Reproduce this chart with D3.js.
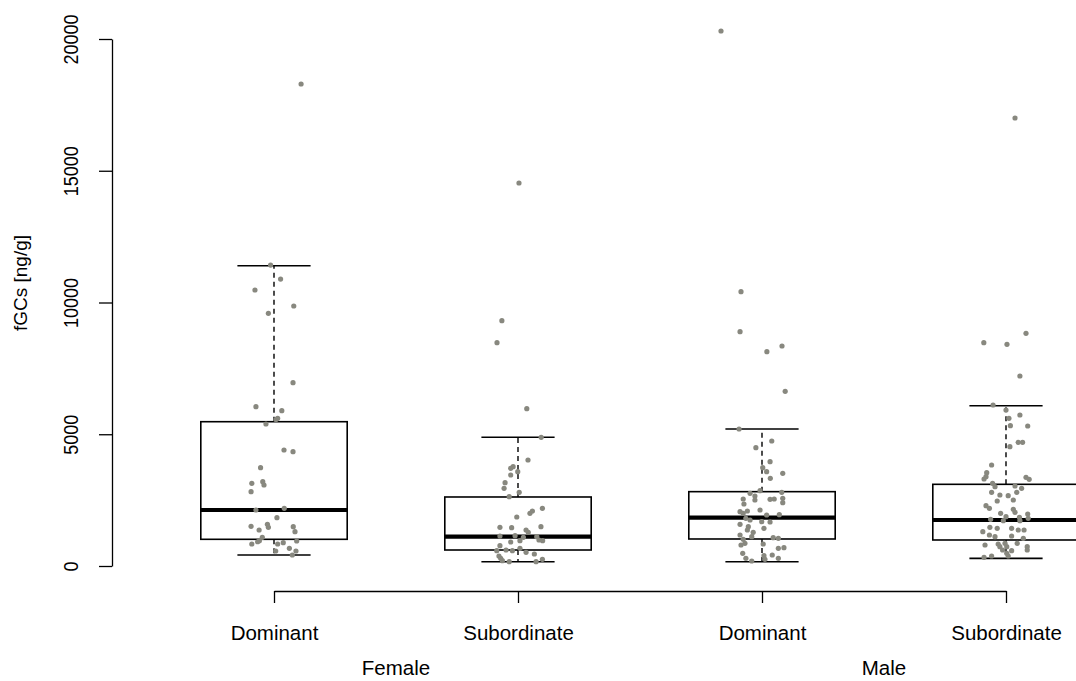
<!DOCTYPE html>
<html>
<head>
<meta charset="utf-8">
<script src="https://cdn.jsdelivr.net/npm/d3@7"></script>
<style>
  body { margin: 0; background: #fff; }
  text { font-family: "Liberation Sans", Arial, sans-serif; fill: #000; }
</style>
</head>
<body>
<svg id="chart" width="1076" height="681"></svg>
<script>
// Groups along the x axis
const groups = ["Female Dominant", "Female Subordinate", "Male Dominant", "Male Subordinate"];
const rankLabels = ["Dominant", "Subordinate", "Dominant", "Subordinate"];
const sexLabels = ["Female", "Male"];
const yTicks = [0, 5000, 10000, 15000, 20000];

// Box statistics per group (ng/g)
const lowerWhisker = [417, 164, 164, 291];
const lowerHinge   = [1013, 607, 1025, 987];
const medians      = [2125, 1113, 1834, 1746];
const upperHinge   = [5476, 2619, 2821, 3100];
const upperWhisker = [11396, 4884, 5199, 6084];

// Individual samples: [fGC value, horizontal jitter in group units]
const femaleDominant = [
  [18292, 0.111], [11420, -0.014], [10890, 0.027], [10474, -0.078], [9867, 0.081],
  [9590, -0.023], [6957, 0.078], [6046, -0.074], [5894, 0.032], [5604, 0.015],
  [5560, 0.008], [5389, -0.033], [4402, 0.041], [4338, 0.078], [3731, -0.055],
  [3138, -0.091], [3200, -0.046], [3074, -0.041], [2820, -0.094], [2125, -0.074],
  [2189, 0.042], [1834, 0.012], [1505, -0.094], [1366, -0.061], [1581, -0.027],
  [1467, -0.023], [1493, 0.079], [1303, 0.086], [1088, -0.048], [961, -0.060],
  [920, -0.067], [835, -0.091], [835, 0.015], [885, 0.038], [949, 0.093],
  [569, 0.007], [670, 0.063], [569, 0.090], [417, 0.075]
];
const femaleSubordinate = [
  [14535, 0.004], [9310, -0.066], [8475, -0.086], [5970, 0.036], [4884, 0.095],
  [4023, 0.041], [3707, -0.030], [3770, -0.020], [3580, -0.001], [3453, -0.030],
  [3162, -0.053], [2947, -0.057], [2796, 0.005], [2631, -0.036], [2189, 0.100],
  [2000, 0.049], [2087, 0.059], [1860, -0.005], [1468, -0.074], [1455, -0.026],
  [1493, 0.094], [1366, 0.033], [1278, 0.042], [1138, -0.074], [1151, -0.012],
  [1088, 0.022], [1113, 0.077], [987, 0.086], [961, 0.101], [911, -0.030],
  [961, 0.008], [772, -0.074], [582, -0.087], [607, -0.049], [582, -0.023],
  [670, 0.008], [519, 0.033], [455, 0.067], [291, -0.071], [202, -0.064],
  [164, -0.036], [164, 0.074], [253, 0.100], [380, -0.078]
];
const maleDominant = [
  [20303, -0.168], [10410, -0.086], [8893, -0.090], [8349, 0.082], [8133, 0.020],
  [6630, 0.095], [5199, -0.094], [4744, 0.040], [4490, -0.025], [3958, 0.033],
  [3731, 0.003], [3580, 0.019], [3518, 0.085], [3328, 0.034], [2858, -0.008],
  [2759, -0.049], [2796, 0.081], [2657, -0.029], [2543, -0.077], [2531, 0.033],
  [2543, 0.050], [2569, 0.085], [2505, -0.029], [2353, -0.074], [2402, 0.085],
  [2125, -0.008], [2061, -0.090], [2087, -0.060], [2000, -0.077], [1935, 0.019],
  [1947, 0.071], [1810, -0.066], [1746, -0.049], [1681, -0.001], [1670, 0.033],
  [1581, -0.090], [1493, -0.056], [1430, 0.008], [1366, -0.060], [1278, -0.036],
  [1176, -0.090], [1013, -0.077], [1113, -0.042], [1075, 0.046], [1050, 0.067],
  [797, -0.086], [860, -0.070], [835, 0.005], [670, 0.067], [696, 0.090],
  [481, -0.079], [392, 0.008], [417, 0.042], [291, 0.067], [291, -0.066],
  [190, -0.042], [253, 0.012]
];
const maleSubordinate = [
  [17002, 0.037], [8830, 0.082], [8475, -0.091], [8413, 0.004], [7211, 0.057],
  [6110, -0.053], [5920, 0.000], [5604, 0.012], [5730, 0.057], [5325, 0.018],
  [5313, 0.089], [4694, 0.050], [4694, 0.068], [4528, 0.016], [3833, -0.059],
  [3541, -0.079], [3302, -0.090], [3389, -0.082], [3366, 0.082], [3290, 0.095],
  [3138, -0.055], [3009, -0.045], [3036, 0.037], [2949, 0.064], [2797, -0.059],
  [2694, -0.025], [2668, 0.009], [2797, 0.044], [2467, -0.036], [2505, 0.030],
  [2288, -0.082], [2189, -0.068], [2151, 0.030], [2037, 0.037], [2000, -0.022],
  [1872, 0.000], [1772, -0.063], [1848, 0.055], [1721, 0.057], [1973, 0.089],
  [1810, 0.091], [1721, -0.011], [1303, -0.095], [1468, -0.066], [1430, -0.036],
  [1430, 0.023], [1366, 0.050], [1366, 0.074], [1176, -0.068], [1113, -0.045],
  [1138, 0.023], [1050, 0.071], [797, -0.086], [835, -0.032], [860, -0.004],
  [860, 0.046], [734, -0.025], [734, 0.003], [734, 0.087], [607, 0.087],
  [607, -0.014], [582, 0.023], [481, 0.003], [380, 0.009], [329, -0.090],
  [380, -0.059]
];
const samples = [femaleDominant, femaleSubordinate, maleDominant, maleSubordinate];

const svg = d3.select("#chart");
const X_FONT = 20.5;
const Y_FONT = 18;

const y = d3.scaleLinear().domain([0, 20000]).range([566, 39]);
const x = d3.scalePoint().domain(groups).range([274, 1006]);
const step = x.step();
const boxW = step * 0.6;
const capW = boxW / 2;

// Boxes, whiskers and caps
const g = svg.append("g");
groups.forEach((name, i) => {
  const cx = x(name);
  // dashed whiskers
  g.append("line")
    .attr("x1", cx).attr("x2", cx)
    .attr("y1", y(upperHinge[i])).attr("y2", y(upperWhisker[i]))
    .attr("stroke", "#000").attr("stroke-width", 1.4).attr("stroke-dasharray", "5,4");
  g.append("line")
    .attr("x1", cx).attr("x2", cx)
    .attr("y1", y(lowerHinge[i])).attr("y2", y(lowerWhisker[i]))
    .attr("stroke", "#000").attr("stroke-width", 1.4).attr("stroke-dasharray", "5,4");
  // caps
  [upperWhisker[i], lowerWhisker[i]].forEach(v => {
    g.append("line")
      .attr("x1", cx - capW / 2).attr("x2", cx + capW / 2)
      .attr("y1", y(v)).attr("y2", y(v))
      .attr("stroke", "#000").attr("stroke-width", 1.6);
  });
  // box
  g.append("rect")
    .attr("x", cx - boxW / 2).attr("width", boxW)
    .attr("y", y(upperHinge[i])).attr("height", y(lowerHinge[i]) - y(upperHinge[i]))
    .attr("fill", "#fff").attr("stroke", "#000").attr("stroke-width", 1.6);
  // median
  g.append("line")
    .attr("x1", cx - boxW / 2).attr("x2", cx + boxW / 2)
    .attr("y1", y(medians[i])).attr("y2", y(medians[i]))
    .attr("stroke", "#000").attr("stroke-width", 4.2);
});

// Jittered sample points
groups.forEach((name, i) => {
  svg.append("g").selectAll("circle")
    .data(samples[i])
    .join("circle")
    .attr("cx", d => x(name) + d[1] * step)
    .attr("cy", d => y(d[0]))
    .attr("r", 2.6)
    .attr("fill", "#88887f");
});

// Y axis
const yAxis = svg.append("g")
  .attr("transform", "translate(112,0)")
  .call(d3.axisLeft(y).tickValues(yTicks).tickFormat(d3.format("d")).tickSize(13).tickSizeOuter(0));
yAxis.select(".domain").attr("stroke", "#000").attr("stroke-width", 1.3);
yAxis.selectAll(".tick line").attr("stroke", "#000").attr("stroke-width", 1.3);
yAxis.selectAll(".tick text")
  .attr("font-size", Y_FONT)
  .attr("font-family", "Liberation Sans, Arial, sans-serif")
  .attr("fill", "#000")
  .attr("x", null).attr("dy", null)
  .attr("text-anchor", "middle")
  .attr("transform", "translate(-34,0) rotate(-90) scale(1,1.15)");

// X axis
const xAxis = svg.append("g")
  .attr("transform", "translate(0,591)")
  .call(d3.axisBottom(x).tickFormat((d, i) => rankLabels[i]).tickSize(12).tickSizeOuter(0));
xAxis.select(".domain").attr("stroke", "#000").attr("stroke-width", 1.3);
xAxis.selectAll(".tick line").attr("stroke", "#000").attr("stroke-width", 1.3);
xAxis.selectAll(".tick text")
  .attr("font-size", X_FONT)
  .attr("font-family", "Liberation Sans, Arial, sans-serif")
  .attr("fill", "#000")
  .attr("y", 49).attr("dy", null);

// Sex labels beneath each pair of groups
sexLabels.forEach((s, k) => {
  const mid = (x(groups[2 * k]) + x(groups[2 * k + 1])) / 2;
  svg.append("text")
    .attr("x", mid).attr("y", 675)
    .attr("text-anchor", "middle")
    .attr("font-size", X_FONT)
    .text(s);
});

// Y axis title
svg.append("text")
  .attr("transform", "translate(27,283) rotate(-90)")
  .attr("text-anchor", "middle")
  .attr("font-size", 19)
  .text("fGCs [ng/g]");
</script>
</body>
</html>
